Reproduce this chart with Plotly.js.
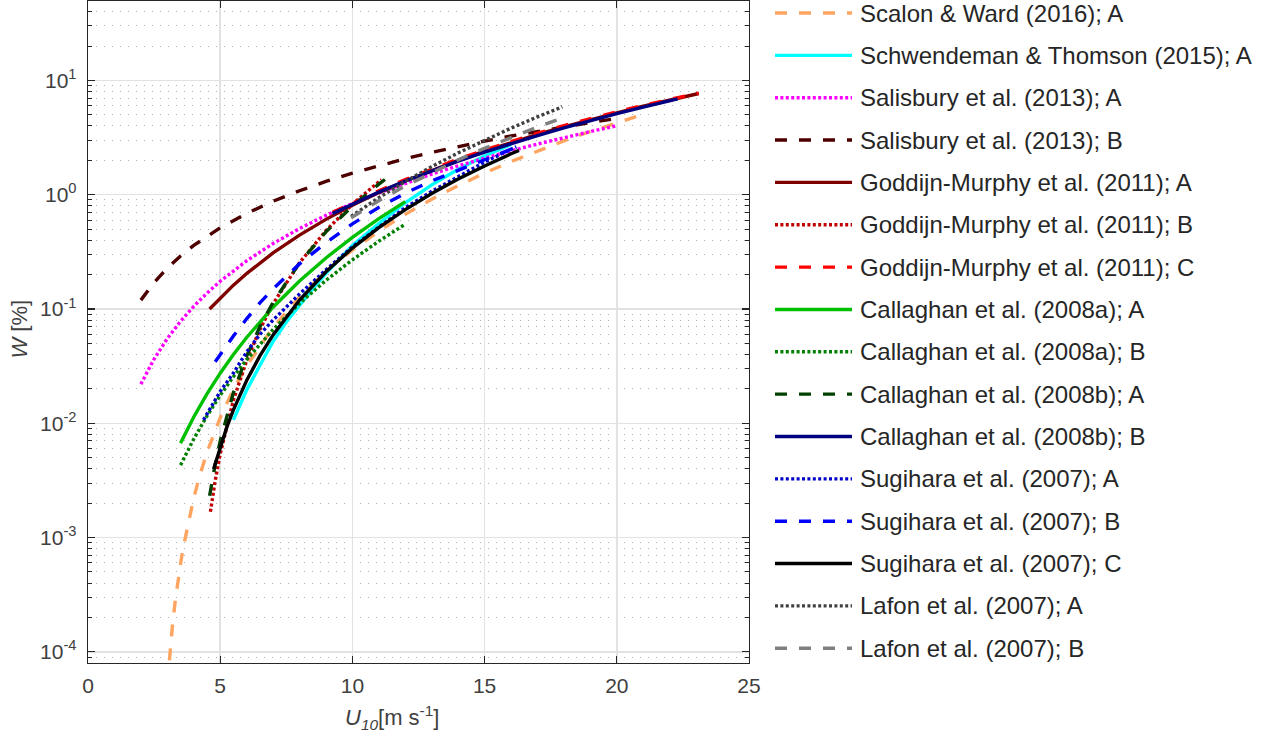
<!DOCTYPE html>
<html>
<head>
<meta charset="utf-8">
<script src="https://cdn.plot.ly/plotly-3.0.1.min.js"></script>
<style>
  html, body { margin: 0; padding: 0; background: #ffffff; }
  #chart { width: 1275px; height: 740px; }
</style>
</head>
<body>
<div id="chart"></div>
<script>
// Whitecap coverage W [%] versus 10 m wind speed U10 [m/s]

const scanlonU = [3.0, 3.1, 3.2, 3.3, 3.4, 3.5, 3.6, 3.8, 4.0, 4.2, 4.5, 5, 5.5, 6, 7, 8, 9, 10, 11, 12, 13, 14, 15, 16, 17, 18, 19, 20, 20.9];
const scanlonW = [5.2e-5, 1.01e-4, 1.75e-4, 2.78e-4, 4.15e-4, 5.9e-4, 8.1e-4, 1.4e-3, 2.22e-3, 3.32e-3, 5.56e-3, 0.0112, 0.01976, 0.0318, 0.069, 0.1276, 0.2123, 0.328, 0.480, 0.673, 0.911, 1.20, 1.544, 1.949, 2.419, 2.958, 3.573, 4.267, 4.964];

const schwendemanU = [5.5, 5.75, 6, 6.5, 7, 7.5, 8, 8.5, 9, 10, 11, 12, 13, 14, 15, 16];
const schwendemanW = [0.0107, 0.0147, 0.0195, 0.032, 0.052, 0.077, 0.108, 0.15, 0.205, 0.36, 0.56, 0.85, 1.22, 1.67, 2.18, 2.75];

const salisburyAU = [2, 2.5, 3, 3.5, 4, 4.5, 5, 6, 7, 8, 9, 10, 11, 12, 13, 14, 15, 16, 17, 18, 19, 20];
const salisburyAW = [0.0220, 0.03648, 0.0551, 0.0780, 0.1055, 0.1377, 0.1748, 0.2638, 0.3738, 0.5056, 0.6597, 0.837, 1.038, 1.264, 1.514, 1.791, 2.093, 2.421, 2.777, 3.160, 3.571, 4.010];

const salisburyBU = [2, 2.5, 3, 3.5, 4, 4.5, 5, 6, 7, 8, 9, 10, 11, 12, 13, 14, 15, 16, 17, 18, 19, 20];
const salisburyBW = [0.1195, 0.1704, 0.2278, 0.2910, 0.3598, 0.4339, 0.5130, 0.6857, 0.8763, 1.0835, 1.306, 1.544, 1.797, 2.064, 2.345, 2.638, 2.943, 3.261, 3.590, 3.933, 4.286, 4.649];

const goddijnAU = [4.6, 5, 5.5, 6, 7, 8, 9, 10, 11, 12, 13, 14, 15, 16, 17, 18, 19, 20, 21, 22, 23.1];
const goddijnAW = [0.100, 0.1251, 0.1617, 0.2043, 0.3093, 0.4431, 0.6083, 0.8078, 1.0436, 1.319, 1.636, 1.997, 2.404, 2.860, 3.366, 3.926, 4.540, 5.211, 5.941, 6.734, 7.679];

const goddijnBU = [4.63, 4.8, 5, 5.5, 6, 6.5, 7, 8, 9, 10, 11, 11.1];
const goddijnBW = [0.00168, 0.00304, 0.0054, 0.01595, 0.03528, 0.06606, 0.1110, 0.2537, 0.4849, 0.8258, 1.2976, 1.3528];

const goddijnCU = [9.25, 10, 11, 12, 13, 14, 15, 16, 17, 18, 19, 20, 21, 22, 23.1];
const goddijnCW = [0.70, 0.845, 1.08, 1.355, 1.68, 2.05, 2.46, 2.93, 3.45, 4.02, 4.64, 5.32, 6.05, 6.85, 7.75];

const callaghanAAU = [3.5, 3.75, 4, 4.5, 5, 5.5, 6, 7, 8, 9, 10, 11, 12];
const callaghanAAW = [0.0067, 0.00880, 0.01135, 0.01808, 0.02742, 0.03995, 0.05632, 0.1036, 0.1754, 0.2795, 0.4236, 0.6172, 0.8704];

const callaghanABU = [3.5, 3.75, 4, 4.5, 5, 5.5, 6, 7, 8, 9, 10, 11, 12];
const callaghanABW = [0.0043, 0.00565, 0.00729, 0.01159, 0.01755, 0.02555, 0.03600, 0.0661, 0.1118, 0.1779, 0.2694, 0.3923, 0.5525];

const callaghanBAU = [4.6, 4.8, 5, 5.5, 6, 6.5, 7, 8, 9, 10, 11, 11.25];
const callaghanBAW = [0.002318, 0.004233, 0.006986, 0.01855, 0.03869, 0.06981, 0.1143, 0.2528, 0.4734, 0.7951, 1.2371, 1.3686];

const callaghanBBU = [9.25, 10, 11, 12, 13, 14, 15, 16, 17, 18, 19, 20, 21, 22, 22.3];
const callaghanBBW = [0.6827, 0.8287, 1.0541, 1.3170, 1.6202, 1.9669, 2.3597, 2.8017, 3.2956, 3.8444, 4.4510, 5.1184, 5.8493, 6.6466, 6.899];

const sugiharaAU = [4.37, 5, 5.5, 6, 6.5, 7, 8, 9, 10, 11, 12, 13, 14, 15, 16, 16.2];
const sugiharaAW = [0.0107, 0.019, 0.0275, 0.042, 0.060, 0.080, 0.135, 0.22, 0.35, 0.52, 0.77, 1.07, 1.45, 1.93, 2.50, 2.62];

const sugiharaBU = [4.81, 5, 5.5, 6, 6.5, 7, 7.5, 8, 9, 10, 11, 12, 13, 14, 15, 16, 16.25];
const sugiharaBW = [0.0345, 0.040, 0.058, 0.082, 0.113, 0.150, 0.195, 0.248, 0.38, 0.555, 0.775, 1.03, 1.32, 1.64, 2.03, 2.50, 2.62];

const sugiharaCU = [4.75, 5, 5.25, 5.5, 6, 6.5, 7, 8, 9, 10, 11, 12, 13, 14, 15, 16, 16.3];
const sugiharaCW = [0.00398, 0.00625, 0.00925, 0.01309, 0.02367, 0.03882, 0.05934, 0.1198, 0.2116, 0.3412, 0.5153, 0.7403, 1.0228, 1.3693, 1.7863, 2.2805, 2.4449];

const lafonAU = [9.95, 11, 12, 13, 14, 15, 16, 17, 17.94];
const lafonAW = [0.647, 0.942, 1.304, 1.760, 2.322, 3.005, 3.824, 4.799, 5.869];

const lafonBU = [9.95, 11, 12, 13, 14, 15, 16, 17, 17.9];
const lafonBW = [0.629, 0.886, 1.192, 1.565, 2.016, 2.551, 3.178, 3.908, 4.660];

const xTicks = [0, 5, 10, 15, 20, 25];
const yTicks = [1e-4, 1e-3, 1e-2, 1e-1, 1, 10];
const yTickText = ['10<sup>-4</sup>', '10<sup>-3</sup>', '10<sup>-2</sup>', '10<sup>-1</sup>', '10<sup>0</sup>', '10<sup>1</sup>'];

// line styles
const DASH = '12px,12px';
const DOT = '3px,2.4px';
const SOLID = 'solid';

const series = [
  { name: 'Scalon & Ward (2016); A',          x: scanlonU,     y: scanlonW,     color: '#FFA561', dash: DASH },
  { name: 'Schwendeman & Thomson (2015); A',  x: schwendemanU, y: schwendemanW, color: '#00FFFF', dash: SOLID },
  { name: 'Salisbury et al. (2013); A',       x: salisburyAU,  y: salisburyAW,  color: '#FF00FF', dash: DOT },
  { name: 'Salisbury et al. (2013); B',       x: salisburyBU,  y: salisburyBW,  color: '#4D0000', dash: DASH },
  { name: 'Goddijn-Murphy et al. (2011); A',  x: goddijnAU,    y: goddijnAW,    color: '#800000', dash: SOLID },
  { name: 'Goddijn-Murphy et al. (2011); B',  x: goddijnBU,    y: goddijnBW,    color: '#C00000', dash: DOT },
  { name: 'Goddijn-Murphy et al. (2011); C',  x: goddijnCU,    y: goddijnCW,    color: '#FF0000', dash: DASH },
  { name: 'Callaghan et al. (2008a); A',      x: callaghanAAU, y: callaghanAAW, color: '#00C000', dash: SOLID },
  { name: 'Callaghan et al. (2008a); B',      x: callaghanABU, y: callaghanABW, color: '#008000', dash: DOT },
  { name: 'Callaghan et al. (2008b); A',      x: callaghanBAU, y: callaghanBAW, color: '#004000', dash: DASH },
  { name: 'Callaghan et al. (2008b); B',      x: callaghanBBU, y: callaghanBBW, color: '#000080', dash: SOLID },
  { name: 'Sugihara et al. (2007); A',        x: sugiharaAU,   y: sugiharaAW,   color: '#0000C8', dash: DOT },
  { name: 'Sugihara et al. (2007); B',        x: sugiharaBU,   y: sugiharaBW,   color: '#0000FF', dash: DASH },
  { name: 'Sugihara et al. (2007); C',        x: sugiharaCU,   y: sugiharaCW,   color: '#000000', dash: SOLID },
  { name: 'Lafon et al. (2007); A',           x: lafonAU,      y: lafonAW,      color: '#404040', dash: DOT },
  { name: 'Lafon et al. (2007); B',           x: lafonBU,      y: lafonBW,      color: '#808080', dash: DASH }
];

const FONT = 'Liberation Sans, Arial, Helvetica, sans-serif';
const LINE_W = 3.4;
const AXIS_COLOR = '#262626';

const traces = [];
const annotations = [];

// curves on the main axes
series.forEach(s => {
  traces.push({
    type: 'scatter', mode: 'lines', x: s.x, y: s.y, name: s.name,
    line: { color: s.color, width: LINE_W, dash: s.dash },
    hoverinfo: 'skip', showlegend: false
  });
});

// legend: one row per series on a hidden pair of axes at the right;
// the sample line spans 0..1 on x2 and the label starts just after it
series.forEach((s, i) => {
  traces.push({
    type: 'scatter', mode: 'lines', x: [0, 1], y: [i, i],
    xaxis: 'x2', yaxis: 'y2',
    line: { color: s.color, width: LINE_W, dash: s.dash },
    hoverinfo: 'skip', showlegend: false
  });
  annotations.push({
    xref: 'x2', yref: 'y2', x: 1.08, y: i, xanchor: 'left', yanchor: 'middle',
    text: s.name, showarrow: false,
    font: { family: FONT, size: 24, color: '#262626' }
  });
});

// axis titles
annotations.push({
  xref: 'paper', yref: 'paper', x: -0.0585, y: 0.5045, textangle: -90,
  xanchor: 'center', yanchor: 'middle', showarrow: false,
  text: '<i>W</i> [%]', font: { family: FONT, size: 22, color: '#404040' }
});
annotations.push({
  xref: 'paper', yref: 'paper', x: 0.2561, y: -0.083,
  xanchor: 'center', yanchor: 'middle', showarrow: false,
  text: '<i>U</i><sub><i>10</i></sub>[m s<sup>-1</sup>]', font: { family: FONT, size: 22, color: '#404040' }
});

// minor log ticks 2..9 in every decade
const minorY = [];
for (let k = -5; k <= 1; k++) {
  for (let m = 2; m <= 9; m++) minorY.push(m * Math.pow(10, k));
}

const plotW = 1275 - 88;
const legendLeft = 687;      // px from the left margin where the sample lines begin
const sampleLen = 77;        // px length of one sample line
const legendSpan = plotW - legendLeft;

const layout = {
  width: 1275, height: 740,
  margin: { l: 88, r: 0, t: 1, b: 77, pad: 0 },
  paper_bgcolor: '#ffffff', plot_bgcolor: '#ffffff',
  showlegend: false, hovermode: false,
  font: { family: FONT, size: 21, color: '#404040' },
  xaxis: {
    domain: [0, 661 / plotW], range: [0, 25],
    tickmode: 'array', tickvals: xTicks, ticktext: xTicks.map(String),
    ticks: 'inside', ticklen: 7, tickwidth: 1.3, tickcolor: AXIS_COLOR,
    showline: true, linecolor: AXIS_COLOR, linewidth: 1.3, mirror: 'ticks',
    showgrid: true, gridcolor: '#e2e2e2', gridwidth: 1.5, zeroline: false,
    tickfont: { family: FONT, size: 21, color: '#404040' },
    ticklabelstandoff: 3
  },
  yaxis: {
    type: 'log', range: [-4.098, 1.695],
    tickmode: 'array', tickvals: yTicks, ticktext: yTickText,
    ticks: 'inside', ticklen: 7, tickwidth: 1.3, tickcolor: AXIS_COLOR,
    showline: true, linecolor: AXIS_COLOR, linewidth: 1.3, mirror: 'ticks',
    showgrid: true, gridcolor: '#e2e2e2', gridwidth: 1.5, zeroline: false,
    tickfont: { family: FONT, size: 21, color: '#404040' },
    ticklabelstandoff: 6,
    minor: {
      tickmode: 'array', tickvals: minorY,
      ticks: 'inside', ticklen: 4, tickwidth: 1, tickcolor: AXIS_COLOR,
      showgrid: true, gridcolor: '#b0b0b0', gridwidth: 1, griddash: '1px,7px'
    }
  },
  xaxis2: {
    domain: [legendLeft / plotW, 1], range: [0, legendSpan / sampleLen],
    anchor: 'y2', showgrid: false, zeroline: false, showline: false,
    showticklabels: false, ticks: '', fixedrange: true
  },
  yaxis2: {
    domain: [0, 1], range: [15.348, -0.2834],
    anchor: 'x2', showgrid: false, zeroline: false, showline: false,
    showticklabels: false, ticks: '', fixedrange: true
  },
  annotations: annotations
};

Plotly.newPlot('chart', traces, layout, { staticPlot: true, displayModeBar: false });
</script>
</body>
</html>
